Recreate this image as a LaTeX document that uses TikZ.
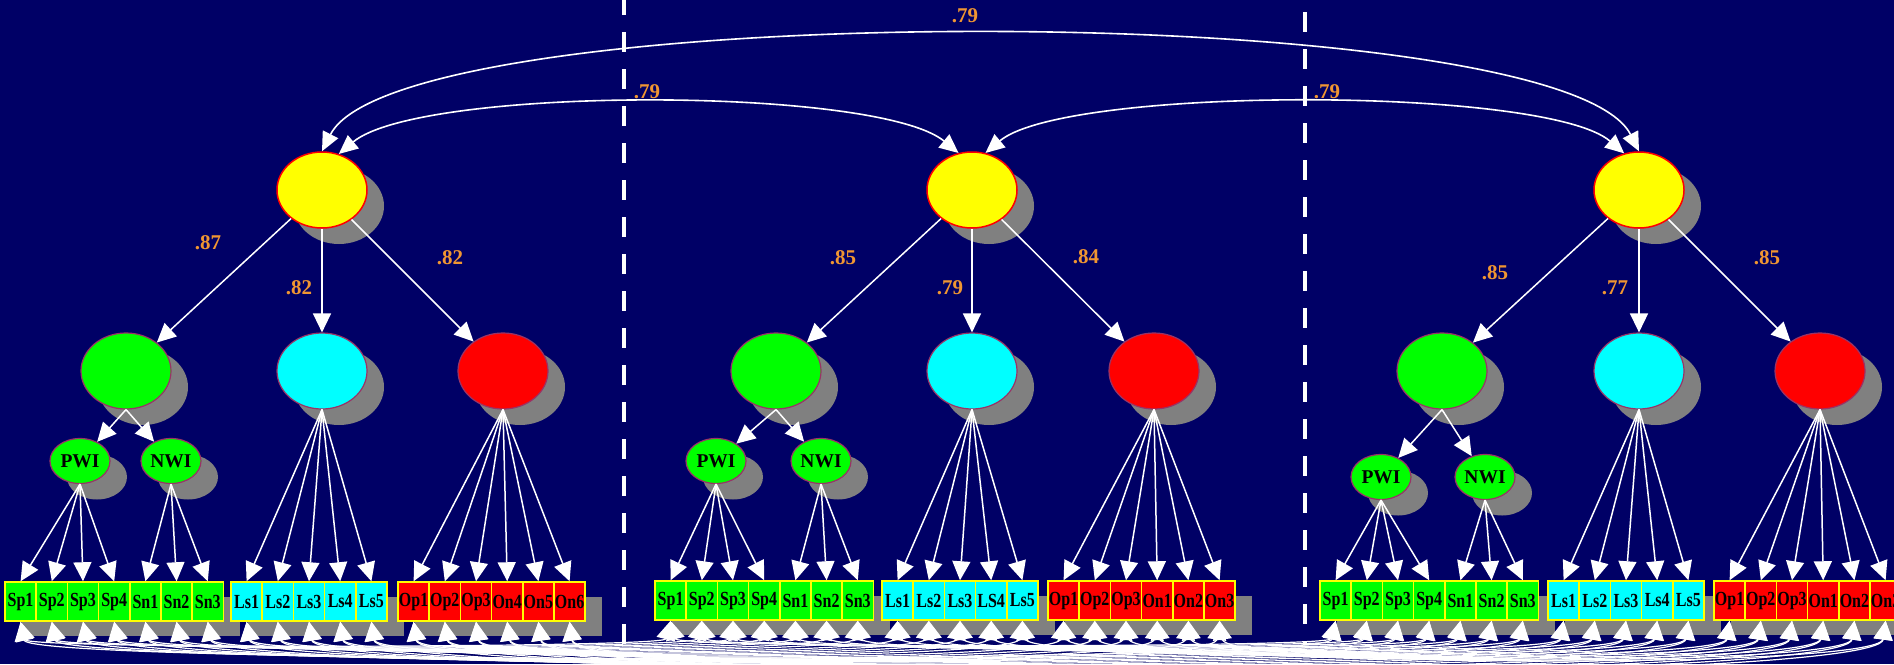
\documentclass[tikz,border=0pt]{standalone}
\usepackage{fontspec}
\setmainfont{Liberation Serif}
\usetikzlibrary{shapes.geometric,arrows.meta,shadows}
\definecolor{bg}{RGB}{0,0,102}
\definecolor{shadowgray}{RGB}{128,128,128}
\definecolor{lab}{RGB}{240,150,50}
\definecolor{latborder}{RGB}{153,51,102}
\definecolor{fyellow}{RGB}{255,255,0}
\definecolor{fgreen}{RGB}{0,255,0}
\definecolor{fcyan}{RGB}{0,255,255}
\definecolor{fred}{RGB}{255,0,0}
\newcommand{\boxtext}[1]{\scalebox{0.8}[1]{#1}}
\begin{document}
\begin{tikzpicture}[x=1pt,y=-1pt,
  lat/.style={ellipse, minimum width=90pt, minimum height=76pt, inner sep=0pt, draw=latborder, line width=1.2pt,
    general shadow={fill=shadowgray, shadow xshift=17pt, shadow yshift=-16pt}},
  ylat/.style={lat, fill=fyellow, draw=fred, line width=1.5pt},
  glat/.style={lat, fill=fgreen},
  clat/.style={lat, fill=fcyan},
  rlat/.style={lat, fill=fred},
  wlat/.style={lat, fill=fgreen, minimum width=60pt, minimum height=45pt, font=\bfseries\fontsize{19.5}{19.5}\selectfont},
  ind/.style={rectangle, minimum width=31.2pt, minimum height=39pt, inner sep=0pt, draw=fyellow, line width=1.5pt,
    font=\bfseries\fontsize{20}{20}\selectfont},
  gind/.style={ind, fill=fgreen},
  cind/.style={ind, fill=fcyan},
  rind/.style={ind, fill=fred},
  ld/.style={font=\bfseries\fontsize{21}{21}\selectfont, text=lab, inner sep=0pt},
  arr/.style={white, line width=1.5pt, -{Triangle[width=18pt,length=19pt]}},
  cov/.style={white, line width=1.6pt, {Triangle[width=17pt,length=19pt]}-{Triangle[width=17pt,length=19pt]}},
  err/.style={white, line width=1.2pt, {Triangle[width=19pt,length=19pt]}-{Triangle[width=19pt,length=19pt]}},
  divider/.style={white, line width=4pt, dash pattern=on 20pt off 17pt},
  grpshadow/.style={fill=shadowgray}
]
\useasboundingbox (0,0) rectangle (1894,664);
\clip (0,0) rectangle (1894,664);
\fill[bg] (0,0) rectangle (1894,664);

% panel dividers
\draw[divider] (624,-5) -- (624,645);
\draw[divider] (1305,12) -- (1305,645);

% top latent variables
\node[ylat] (Y1) at (322,190) {};
\node[ylat] (Y2) at (972,190) {};
\node[ylat] (Y3) at (1639,190) {};

% first-order latents
\node[glat] (G1) at (126,371) {};
\node[glat] (G2) at (776,371) {};
\node[glat] (G3) at (1442,371) {};
\node[clat] (C1) at (322,371) {};
\node[clat] (C2) at (972,371) {};
\node[clat] (C3) at (1639,371) {};
\node[rlat] (R1) at (503,371) {};
\node[rlat] (R2) at (1154,371) {};
\node[rlat] (R3) at (1820,371) {};

\node[wlat] (P1) at (80,461) {PWI};
\node[wlat] (N1) at (171,461) {NWI};
\node[wlat] (P2) at (716,461) {PWI};
\node[wlat] (N2) at (821,461) {NWI};
\node[wlat] (P3) at (1381,477) {PWI};
\node[wlat] (N3) at (1485,477) {NWI};

% covariance arcs
\draw[cov] (Y1.north) .. controls (400,-3) and (1561,-3) .. (Y3.north);
\draw[cov] (Y1.65) .. controls (420,86) and (877,86) .. (Y2.110);
\draw[cov] (Y2.70) .. controls (1065,86) and (1546,86) .. (Y3.112);
\node[ld] (k1) at (965,16) {.79};
\node[ld] (k2) at (647,92) {.79};
\node[ld] (k3) at (1327,92) {.79};

% loadings from top latents
\foreach \n in {1,2,3}{
  \draw[arr] (Y\n) -- (G\n);
  \draw[arr] (Y\n) -- (C\n);
  \draw[arr] (Y\n) -- (R\n);
  \draw[arr] (G\n.south) -- (P\n);
  \draw[arr] (G\n.south) -- (N\n);
}
\node[ld] (l1) at (208,243) {.87};
\node[ld] (l2) at (299,288) {.82};
\node[ld] (l3) at (450,258) {.82};
\node[ld] (l4) at (843,258) {.85};
\node[ld] (l5) at (950,288) {.79};
\node[ld] (l6) at (1086,257) {.84};
\node[ld] (l7) at (1495,273) {.85};
\node[ld] (l8) at (1615,288) {.77};
\node[ld] (l9) at (1767,258) {.85};

% box group shadows
\foreach \gx/\cx/\rx/\yy in {5/231/398/601.5, 655/882/1048/600.5, 1320/1548/1714/600.5}{
  \fill[grpshadow] (\gx+17,\yy-4.5) rectangle (\gx+17+218.4,\yy+34.5);
  \fill[grpshadow] (\cx+17,\yy-4.5) rectangle (\cx+17+156,\yy+34.5);
  \fill[grpshadow] (\rx+17,\yy-4.5) rectangle (\rx+17+187.2,\yy+34.5);
}

% indicators panel 1
\foreach \t [count=\i] in {Sp1,Sp2,Sp3,Sp4,Sn1,Sn2,Sn3}
  \node[gind] (a\i) at ({5+15.6+31.2*(\i-1)},601.5) {\boxtext{\t}};
\foreach \t [count=\i from 8] in {Ls1,Ls2,Ls3,Ls4,Ls5}
  \node[cind] (a\i) at ({231+15.6+31.2*(\i-8)},601.5) {\boxtext{\t}};
\foreach \t [count=\i from 13] in {Op1,Op2,Op3,On4,On5,On6}
  \node[rind] (a\i) at ({398+15.6+31.2*(\i-13)},601.5) {\boxtext{\t}};
% panel 2
\foreach \t [count=\i] in {Sp1,Sp2,Sp3,Sp4,Sn1,Sn2,Sn3}
  \node[gind] (b\i) at ({655+15.6+31.2*(\i-1)},600.5) {\boxtext{\t}};
\foreach \t [count=\i from 8] in {Ls1,Ls2,Ls3,LS4,Ls5}
  \node[cind] (b\i) at ({882+15.6+31.2*(\i-8)},600.5) {\boxtext{\t}};
\foreach \t [count=\i from 13] in {Op1,Op2,Op3,On1,On2,On3}
  \node[rind] (b\i) at ({1048+15.6+31.2*(\i-13)},600.5) {\boxtext{\t}};
% panel 3
\foreach \t [count=\i] in {Sp1,Sp2,Sp3,Sp4,Sn1,Sn2,Sn3}
  \node[gind] (c\i) at ({1320+15.6+31.2*(\i-1)},600.5) {\boxtext{\t}};
\foreach \t [count=\i from 8] in {Ls1,Ls2,Ls3,Ls4,Ls5}
  \node[cind] (c\i) at ({1548+15.6+31.2*(\i-8)},600.5) {\boxtext{\t}};
\foreach \t [count=\i from 13] in {Op1,Op2,Op3,On1,On2,On3}
  \node[rind] (c\i) at ({1714+15.6+31.2*(\i-13)},600.5) {\boxtext{\t}};

% loadings to indicators
\foreach \n/\L in {1/a,2/b,3/c}{
  \foreach \i in {1,...,4} \draw[arr] (P\n.south) -- (\L\i.north);
  \foreach \i in {5,6,7} \draw[arr] (N\n.south) -- (\L\i.north);
  \foreach \i in {8,...,12} \draw[arr] (C\n.south) -- (\L\i.north);
  \foreach \i in {13,...,18} \draw[arr] (R\n.south) -- (\L\i.north);
}

% correlated errors across panels
\foreach \i in {1,...,18}{
  \pgfmathsetmacro\dd{26+1.2*\i}
  \pgfmathsetmacro\de{42+1.3*\i}
  \draw[err] (a\i.south) .. controls +(7,\dd) and +(-7,\dd) .. (b\i.south);
  \draw[err] (b\i.south) .. controls +(7,\dd) and +(-7,\dd) .. (c\i.south);
  \draw[err] (a\i.south) .. controls +(8,\de) and +(-8,\de) .. (c\i.south);
}
\end{tikzpicture}
\end{document}
